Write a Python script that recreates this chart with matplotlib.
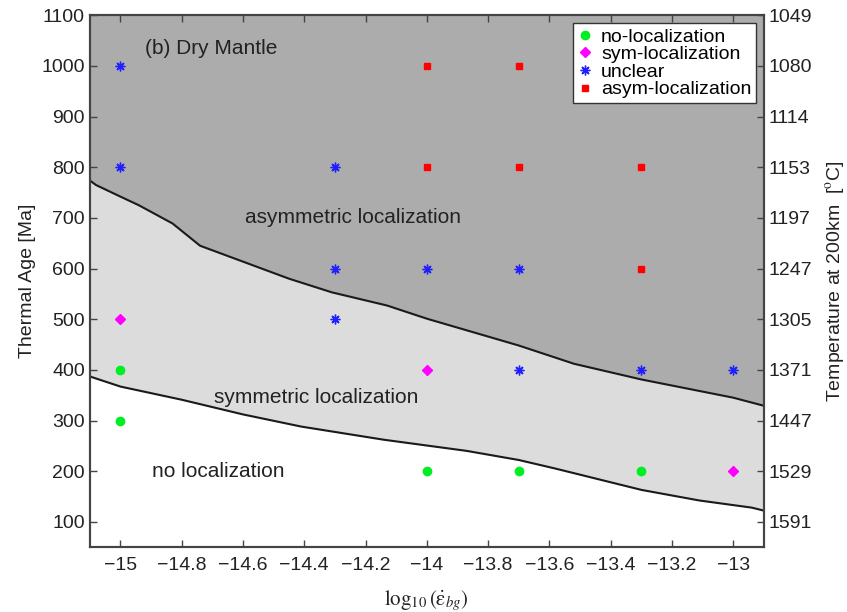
import matplotlib
matplotlib.use("Agg")
import matplotlib.pyplot as plt

plt.rcParams['font.family'] = ['Liberation Sans', 'DejaVu Sans']
plt.rcParams['mathtext.fontset'] = 'stix'

# regime boundaries
upper_x = [-15.1, -15.08, -15.0, -14.94, -14.83, -14.74, -14.45, -14.31, -14.13, -14.0,
           -13.7, -13.52, -13.3, -13.0, -12.9]
upper_y = [774, 765, 742, 725, 689, 645, 580, 553, 527, 501, 448, 412, 381, 345, 329]
lower_x = [-15.1, -15.0, -14.8, -14.6, -14.41, -14.14, -13.87, -13.7, -13.58, -13.3,
           -13.11, -12.94, -12.9]
lower_y = [387, 367, 341, 312, 288, 262, 240, 222, 205, 163, 142, 128, 122]

# simulation outcomes
no_loc_x = [-15, -15, -14, -13.7, -13.3]
no_loc_y = [400, 300, 200, 200, 200]
sym_x = [-15, -14, -13]
sym_y = [500, 400, 200]
unclear_x = [-15, -15, -14.3, -14.3, -14.3, -14, -13.7, -13.7, -13.3, -13]
unclear_y = [1000, 800, 800, 600, 500, 600, 600, 400, 400, 400]
asym_x = [-14, -13.7, -14, -13.7, -13.3, -13.3]
asym_y = [1000, 1000, 800, 800, 800, 600]

age_ticks = [100, 200, 300, 400, 500, 600, 700, 800, 900, 1000, 1100]
temp_labels = ['1591', '1529', '1447', '1371', '1305', '1247', '1197', '1153', '1114', '1080', '1049']
x_ticks = [-15, -14.8, -14.6, -14.4, -14.2, -14, -13.8, -13.6, -13.4, -13.2, -13]

txt = '#222222'
fig = plt.figure(figsize=(8.47, 6.12), dpi=100)
ax = fig.add_axes([0.106, 0.106, 0.796, 0.869])

ax.fill_between(upper_x, upper_y, 1100, color='#acacac', lw=0)
ax.fill_between(upper_x, 0, upper_y, color='#dcdcdc', lw=0)
ax.fill_between(lower_x, 0, lower_y, color='white', lw=0)
ax.plot(upper_x, upper_y, color='#1a1a1a', lw=1.5)
ax.plot(lower_x, lower_y, color='#1a1a1a', lw=1.5)

ax.plot(no_loc_x, no_loc_y, 'o', color='#00ee22', ms=6, ls='none', label='no-localization')
ax.plot(sym_x, sym_y, 'D', color='#ff00ff', ms=5.5, ls='none', label='sym-localization')
ax.plot(unclear_x, unclear_y, marker=(8, 2, 0), color='#2020ff', ms=7, mew=1.0,
        ls='none', label='unclear')
ax.plot(asym_x, asym_y, 's', color='#ff0000', ms=4.5, ls='none', label='asym-localization')

ax.text(-14.92, 1035, '(b) Dry Mantle', fontsize=15, color=txt, va='center')
ax.text(-14.24, 700, 'asymmetric localization', fontsize=15, color=txt, ha='center', va='center')
ax.text(-14.36, 345, 'symmetric localization', fontsize=15, color=txt, ha='center', va='center')
ax.text(-14.68, 200, 'no localization', fontsize=15, color=txt, ha='center', va='center')

ax.set_xlim(-15.1, -12.9)
ax.set_ylim(50, 1100)
ax.set_xticks(x_ticks)
ax.set_xticklabels(['\u2212' + f'{abs(v):g}' for v in x_ticks])
ax.set_yticks(age_ticks)
ax.tick_params(direction='in', labelsize=14, labelcolor=txt, color='#444444',
               top=True, length=5, width=1)
ax.tick_params(axis='x', pad=7)
ax.set_ylabel('Thermal Age [Ma]', fontsize=14, color=txt)
ax.set_xlabel(r'$\log_{10}(\dot{\mathrm{\varepsilon}}_{bg})$', fontsize=15, color=txt,
              labelpad=10)

ax.legend(loc='upper right', fontsize=14, frameon=True, fancybox=False, framealpha=1,
          edgecolor='#333333', handlelength=0.8, handletextpad=0.4, labelspacing=0.0,
          borderpad=0.25, borderaxespad=0.4)

ax2 = ax.twinx()
ax2.set_ylim(50, 1100)
ax2.set_yticks(age_ticks)
ax2.set_yticklabels(temp_labels)
ax2.tick_params(direction='in', labelsize=14, labelcolor=txt, color='#444444',
                length=5, width=1)
ax2.set_ylabel('Temperature at 200km  [$^{\\mathrm{o}}$C]', fontsize=14, color=txt,
               labelpad=8)

for a in (ax, ax2):
    for s in a.spines.values():
        s.set_color('#444444')
        s.set_linewidth(1.5)

fig.savefig('out.png', dpi=100)
